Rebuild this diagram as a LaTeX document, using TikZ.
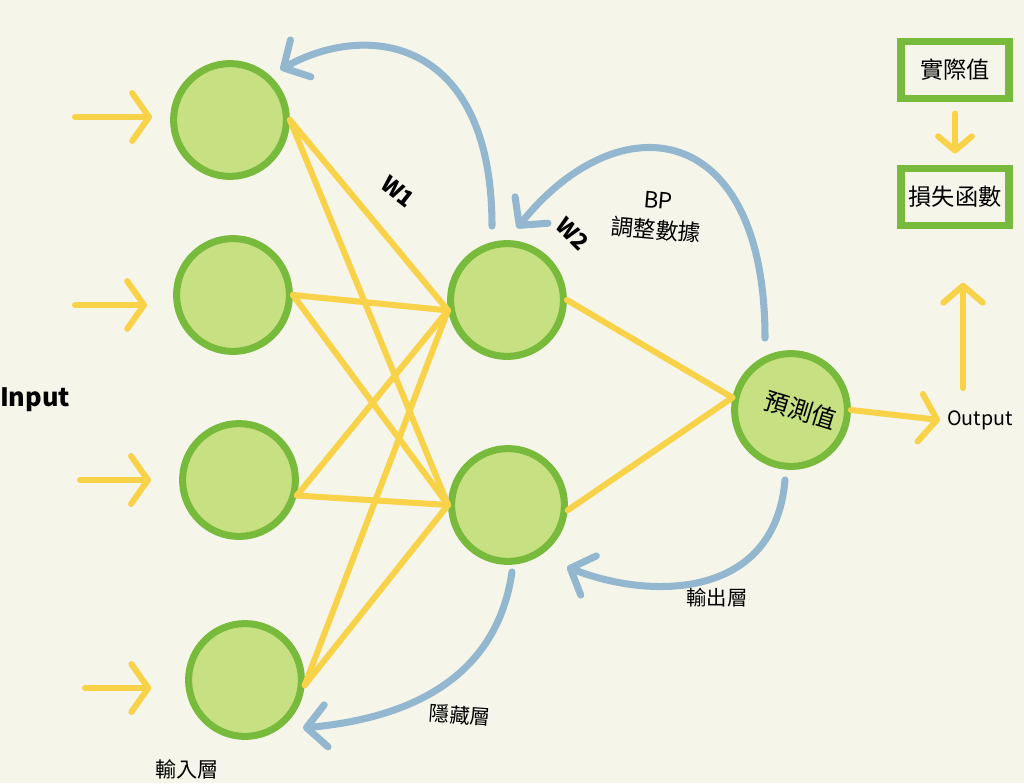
\documentclass[tikz,border=0pt]{standalone}
\usepackage{fontspec}
\setmainfont{Noto Sans CJK TC}
\usepackage{xcolor}
\usetikzlibrary{positioning, arrows.meta, calc}
\definecolor{bgcream}{RGB}{245,245,234}
\definecolor{cellfill}{RGB}{199,224,130}
\definecolor{cellline}{RGB}{120,186,60}
\definecolor{wireyellow}{RGB}{248,211,74}
\definecolor{bpblue}{RGB}{148,183,208}

\begin{document}
\begin{tikzpicture}[
  x=0.025cm, y=-0.025cm,
  neuron/.style={
    circle, draw=cellline, fill=cellfill, line width=5pt,
    minimum size=2.82cm, inner sep=0pt
  },
  wire/.style={wireyellow, line width=4.3pt, line cap=round},
  feed/.style={wire, -{Straight Barb[length=12pt, width=34pt, round]}},
  bp/.style={bpblue, line width=5pt, line cap=round,
    -{Straight Barb[length=14pt, width=30pt, round]}},
  valbox/.style={draw=cellline, line width=5.5pt, fill=bgcream,
    minimum width=2.7cm, minimum height=1.42cm, font=\fontsize{16.5}{19}\selectfont},
  lbl/.style={font=\fontsize{14.5}{17}\selectfont}
]
\fill[bgcream] (0,0) rectangle (1024,783);
\useasboundingbox (0,0) rectangle (1024,783);

% input layer
\node[neuron] (i1) at (230,120) {};
\node[neuron] (i2) at (233,295) {};
\node[neuron] (i3) at (239,480) {};
\node[neuron] (i4) at (245,680) {};
% hidden layer
\node[neuron] (h1) at (507,300) {};
\node[neuron] (h2) at (508,505) {};
% output
\node[neuron, font=\fontsize{17.5}{20}\selectfont] (o) at (791,410)
  {\hspace*{14pt}\rotatebox{-17}{預測值}};

% input arrows
\coordinate (in1) at (75,117);
\coordinate (in2) at (75,305);
\coordinate (in3) at (80,480);
\coordinate (in4) at (85,688);
\foreach \k/\gap in {1/12.8pt, 2/18.5pt, 3/20pt, 4/24pt} {
  \draw[feed, shorten >=\gap] (in\k) -- (in\k -| i\k.west);
}

% weights W1
\foreach \s in {i1.east, i2.east, i3.345, i4.355} {
  \draw[wire] (\s) -- (h1.190);
  \draw[wire] (\s) -- (h2.west);
}
% weights W2
\draw[wire] (h1.east) -- (o.168);
\draw[wire] (h2.355) -- (o.168);

% output side
\coordinate (oend) at (940,420);
\draw[feed] (o.east) -- (oend);
\node[lbl, right=2mm of oend, anchor=west, xshift=-4pt, font=\fontsize{14}{17}\selectfont] (outlbl) {Output};

\node[valbox] (real) at (955,70) {實際值};
\node[valbox] (loss) at (955,197) {損失函數};
\draw[feed, shorten <=8pt, shorten >=8pt,
  -{Straight Barb[length=10pt, width=24pt, round]}] (real) -- (loss);
\coordinate (upfoot) at (963,388);
\draw[feed, shorten >=38pt,
  -{Straight Barb[length=12pt, width=28pt, round]}] (upfoot) -- (upfoot |- loss.south);

% back propagation
\draw[bp] ($(h1.north)+(-15,-14)$) .. controls (492,40) and (370,20) .. ($(i1.45)+(8,-8)$);
\draw[bp] ($(o.north)+(-26,-12)$) .. controls (765,120) and (620,100) .. ($(h1.north)+(10,-12)$);
\draw[bp] ($(o.south)+(-6,10)$) .. controls (775,600) and (650,600) .. ($(h2.south)+(59,2)$);
\draw[bp] ($(h2.south)+(4,7)$) .. controls (495,690) and (390,720) .. ($(i4.south)+(58,-12)$);

% labels
\node[font=\bfseries\fontsize{18}{22}\selectfont] (inlbl) at (35,400) {Input};
\node[font=\bfseries\fontsize{16}{20}\selectfont, rotate=-38] (w1) at (398,192) {W1};
\node[font=\bfseries\fontsize{16}{20}\selectfont, rotate=-45] (w2) at (573,234) {W2};
\node[font=\fontsize{16}{21}\selectfont, rotate=-5, align=center] (bplbl) at (657,216) {BP\\調整數據};
\node[lbl] (outlayer) at (717,598) {輸出層};
\node[lbl, rotate=-4] (hidlayer) at (460,715) {隱藏層};
\node[lbl, font=\fontsize{15}{17}\selectfont] (inlayer) at (187,769) {輸入層};
\end{tikzpicture}
\end{document}
